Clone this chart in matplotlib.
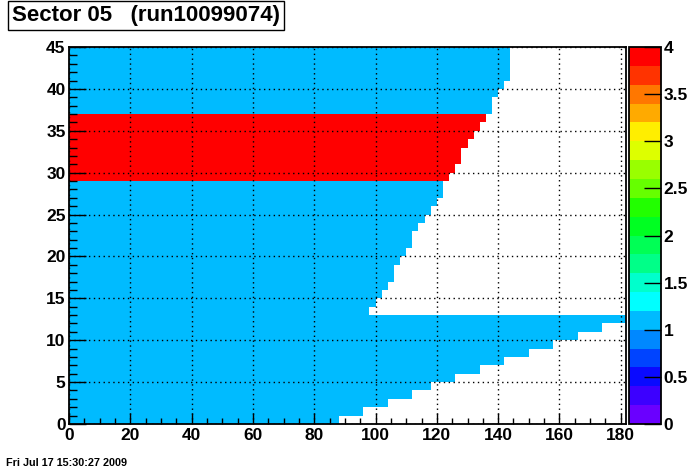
import numpy as np
import matplotlib
matplotlib.use("Agg")
import matplotlib.pyplot as plt
from matplotlib.colors import ListedColormap, BoundaryNorm
from matplotlib.cm import ScalarMappable
from matplotlib.ticker import MultipleLocator

plt.rcParams['font.family'] = ['Liberation Sans', 'DejaVu Sans']
plt.rcParams['font.weight'] = 'bold'

# lower edge of each row (y) and how far it extends along x
rows = list(range(45))
extent = [88, 96, 104, 112, 118, 126, 134, 142, 150, 158,
          166, 174, 182, 98, 100, 102, 104, 106, 106, 108,
          110, 112, 112, 114, 116, 118, 120, 122, 122, 124,
          126, 128, 128, 130, 132, 134, 136, 138, 138, 140,
          142, 144, 144, 144, 144]
value = [1] * 29 + [4] * 8 + [1] * 8

palette = ["#6a00ff", "#3c00ff", "#0a0aff", "#0044ff", "#0088ff",
           "#00bbff", "#00ffff", "#00ffcc", "#00ff88", "#00ff55",
           "#00ff22", "#22ff00", "#66ff00", "#99ff00", "#ddff00",
           "#ffee00", "#ffaa00", "#ff7700", "#ff3300", "#ff0000"]
cmap = ListedColormap(palette)
cmap.set_over(palette[-1])
norm = BoundaryNorm(np.linspace(0, 4, 21), cmap.N)

fig = plt.figure(figsize=(6.96, 4.72), dpi=100)
ax = fig.add_axes([69/696, 48/472, 557/696, 377/472])
cax = fig.add_axes([629/696, 48/472, 32/696, 377/472])

ax.barh(rows, extent, height=1, left=0, align='edge',
        color=[cmap(norm(v)) for v in value], linewidth=0)

ax.set_xlim(0, 181.7)
ax.set_ylim(0, 45)
ax.xaxis.set_major_locator(MultipleLocator(20))
ax.xaxis.set_minor_locator(MultipleLocator(5))
ax.yaxis.set_major_locator(MultipleLocator(5))
ax.yaxis.set_minor_locator(MultipleLocator(1))
ax.tick_params(axis='x', which='major', direction='in', length=8, width=1, labelsize=12.5, pad=3)
ax.tick_params(axis='x', which='minor', direction='in', length=4, width=1)
ax.tick_params(axis='y', which='major', direction='in', length=12, width=1, labelsize=12.5, pad=2.5)
ax.tick_params(axis='y', which='minor', direction='in', length=6, width=1)
ax.grid(True, which='major', color='black', linestyle=(0, (1, 2.5)), linewidth=1)
ax.set_axisbelow(False)
for s in ax.spines.values():
    s.set_linewidth(1.3)

sm = ScalarMappable(norm=norm, cmap=cmap)
cb = fig.colorbar(sm, cax=cax, ticks=np.arange(0, 4.01, 0.5))
cb.ax.set_yticklabels(['0', '0.5', '1', '1.5', '2', '2.5', '3', '3.5', '4'])
cb.ax.tick_params(direction='in', length=12, width=1, labelsize=12.5, pad=2, right=True, left=False)
cb.ax.minorticks_off()
cb.outline.set_linewidth(1.3)

fig.text(12/696, 1 - 15.5/472, "Sector 05   (run10099074)", fontsize=16, fontweight='bold',
         va='center', ha='left',
         bbox=dict(boxstyle='square,pad=0.18', facecolor='white', edgecolor='black', linewidth=1))
fig.text(6/696, 1 - 463/472, "Fri Jul 17 15:30:27 2009", fontsize=7.8, fontweight='bold',
         va='center', ha='left')

fig.savefig("out.png", dpi=100)
